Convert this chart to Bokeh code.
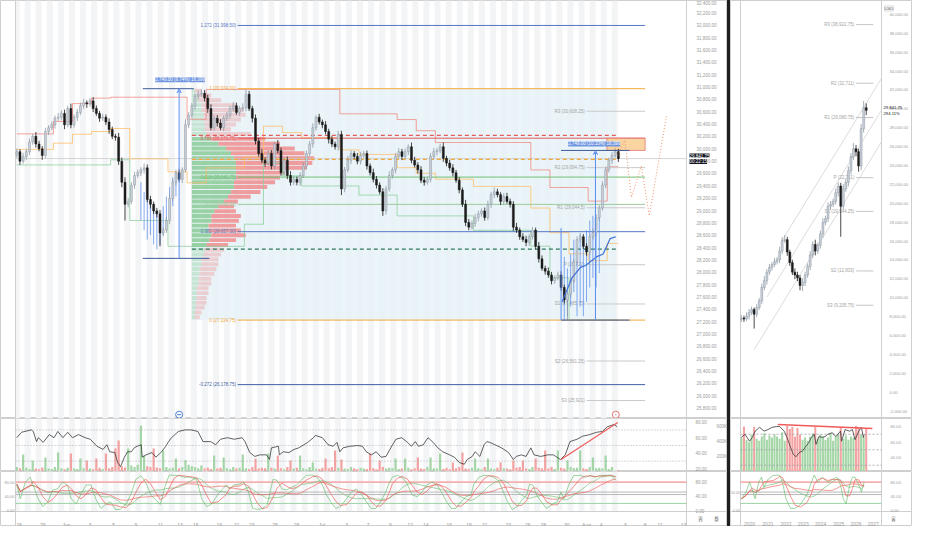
import numpy as np
import pandas as pd
from bokeh.plotting import figure
from bokeh.models import (Range1d, LinearAxis, FixedTicker, NumeralTickFormatter,
                          Label, Arrow, VeeHead, ColumnDataSource, Div)
from bokeh.layouts import row, column
from bokeh.core.properties import value
from bokeh.embed import file_html
from bokeh.resources import INLINE

# ===================== DATA =====================
first_open_l = 29900
close_l = [
    29954, 29799, 29877, 29954, 30109, 30202, 30078, 30000, 29892, 30280,
    30342, 30388, 30497, 30512, 30574, 30388, 30652, 30388, 30512, 30590,
    30698, 30745, 30729, 30776, 30652, 30574, 30497, 30512, 30434, 30311,
    30202, 30187, 29799, 29458, 29102, 29148, 29412, 29567, 29613, 29660,
    29691, 29179, 29102, 28993, 28947, 28637, 28683, 28838, 29195, 29458,
    29613, 29505, 29660, 30388, 30543, 30698, 30853, 30884, 30900, 30822,
    30652, 30342, 30497, 30419, 30342, 30497, 30543, 30652, 30698, 30590,
    30652, 30667, 30884, 30652, 30497, 30125, 29923, 29815, 29768, 29923,
    29722, 30078, 29970, 29613, 29815, 29567, 29458, 29505, 29458,
    29567, 29722, 29923, 30078, 30342, 30512, 30434, 30388, 30280, 30156,
    30078, 30032, 30233, 29350, 29660, 29815, 29923, 29877, 29799, 29892,
    29923, 29722, 29613, 29505, 29412, 29303, 28993, 29350, 29567, 29660,
    29877, 29954, 29877, 29954, 30032, 29815, 29737, 29660, 29489, 29458,
    29505, 29877, 29954, 29970, 30032, 29846, 29768, 29691, 29613, 29489,
    29334, 29102, 28807, 28730, 28792, 28885, 28947, 28993, 28885, 29102,
    29257, 29303, 29257, 29148, 29226, 29148, 29102, 28730, 28683, 28575,
    28531, 28482, 28575, 28683, 28420, 28218, 28063, 28017, 27955, 27862,
    27908, 27955, 27753, 27552, 27645, 27862, 28172, 28528, 28575, 28420,
    28326, 28575, 28637, 28885, 29040, 29412, 29660, 29815, 29892, 29954,
    29842]
wick_hi_l = [
    50, 40, 60, 45, 55, 40, 70, 50, 45, 60, 40, 55, 45, 70, 50, 60, 45, 80, 40, 55,
    50, 65, 40, 45, 60, 50, 40, 55, 45, 60, 50, 40, 70, 60, 80, 55, 45, 60, 50, 40,
    70, 55, 60, 45, 50, 60, 40, 55, 70, 45, 50, 60, 40, 90, 50, 45, 40, 60, 62, 50,
    55, 70, 45, 50, 60, 40, 55, 45, 60, 50, 40, 70, 78, 55, 45, 60, 50, 70, 45, 60,
    55, 40, 65, 50, 45, 60, 70, 50, 45, 55, 60, 45, 50, 70, 31, 55, 40, 60, 45, 50,
    40, 55, 60, 45, 70, 50, 40, 55, 60, 45, 50, 40, 65, 55, 45, 60, 50, 70, 40, 55,
    60, 45, 50, 40, 70, 55, 45, 60, 50, 40, 55, 60, 45, 50, 70, 40, 55, 60, 45, 50,
    40, 70, 55, 45, 60, 50, 40, 55, 60, 45, 70, 50, 40, 55, 60, 45, 50, 70, 40, 55,
    60, 45, 50, 40, 70, 55, 45, 60, 50, 40, 55, 60, 45, 50, 70, 40, 55, 60, 45, 50,
    40, 70, 55, 45, 60, 50, 40, 55, 60, 45]
wick_lo_l = [
    45, 60, 40, 55, 50, 45, 60, 40, 70, 45, 55, 40, 60, 45, 50, 70, 40, 55, 45, 60,
    40, 50, 65, 45, 55, 40, 60, 45, 50, 70, 45, 55, 60, 80, 264, 50, 45, 60, 40, 55,
    60, 45, 70, 50, 60, 217, 55, 45, 60, 40, 50, 45, 60, 40, 55, 45, 60, 50, 40, 55,
    70, 45, 50, 60, 40, 55, 45, 60, 50, 40, 55, 45, 60, 40, 70, 55, 50, 45, 60, 40,
    55, 60, 45, 50, 40, 60, 55, 45, 50, 60, 40, 55, 45, 60, 50, 40, 55, 45, 70, 50,
    45, 60, 100, 55, 40, 60, 45, 50, 55, 40, 60, 45, 50, 55, 40, 80, 60, 45, 50, 55,
    40, 60, 45, 55, 50, 40, 60, 45, 55, 40, 50, 45, 60, 40, 55, 50, 45, 60, 40, 55,
    45, 60, 50, 40, 55, 60, 45, 50, 40, 60, 55, 45, 60, 50, 40, 55, 60, 45, 50, 40,
    60, 55, 45, 50, 60, 40, 55, 45, 60, 50, 40, 55, 60, 327, 50, 40, 55, 45, 45, 60,
    50, 45, 60, 55, 40, 50, 45, 60, 40, 55]
vol_l = [  # thousands
    60, 45, 227, 50, 35, 147, 40, 30, 55, 187, 40, 35, 60, 253, 45, 30, 50, 240, 40, 35,
    173, 45, 147, 40, 30, 173, 50, 35, 240, 45, 60, 307, 413, 70, 55, 307, 80, 60, 90, 613,
    213, 70, 60, 307, 55, 45, 280, 60, 40, 50, 173, 45, 60, 150, 90, 70, 60, 45, 80, 40,
    55, 35, 213, 40, 50, 187, 45, 30, 60, 40, 50, 227, 45, 35, 60, 173, 40, 50, 45, 240,
    50, 40, 213, 45, 30, 60, 147, 40, 50, 213, 45, 30, 60, 120, 40, 35, 50, 173, 45, 60,
    280, 50, 160, 40, 35, 60, 45, 30, 50, 40, 35, 240, 45, 30, 147, 60, 40, 50, 45, 173,
    35, 40, 173, 50, 30, 45, 187, 40, 35, 60, 187, 45, 40, 240, 35, 50, 30, 120, 45, 60,
    253, 40, 35, 50, 173, 45, 30, 60, 173, 40, 35, 50, 120, 45, 40, 30, 147, 50, 60, 147,
    40, 35, 60, 173, 50, 45, 280, 40, 60, 35, 280, 50, 40, 147, 60, 45, 50, 280, 40, 35,
    60, 187, 45, 50, 40, 213, 35, 60, 13, 20]
rsi_t_l = [0, 1.5, 4.6, 5.2, 6.2, 6.8, 8.3, 10.2, 11.7, 12.9, 14.5, 16, 17.5, 19.4, 21.5, 23.1,
           25.2, 27.1, 28.3, 29.2, 30.8, 31.7, 32.6, 33.8, 34.8, 36, 36.9, 37.8, 39.1, 39.4,
           40.6, 42.5, 43.7, 45.5, 46.8, 47.7, 48.6, 50.8, 52.9, 54.8, 56.9, 58.5, 60.9, 62.5,
           64, 66.2, 68.3, 70.8, 71.7, 73.2, 74.8, 76.3, 78.5, 79.4, 80, 82.2, 82.5, 83.7, 85.5,
           87.1, 88.6, 91.4, 93.2, 93.8, 96, 97.8, 99.4, 100.6, 101.5, 102.5, 104.6, 107.1,
           108.6, 109.8, 111.4, 112.9, 114.5, 116, 117.5, 119.1, 120.9, 122.5, 124, 125.2,
           126.2, 127.7, 129.2, 130.8, 132.3, 133.8, 136, 137.5, 139.1, 140.6, 141.5, 143.1,
           144, 145.5, 146.8, 147.7, 148.6, 150.2, 152.3, 154.5, 156, 156.9, 158.5, 160,
           161.5, 162.5, 164.6, 166.8, 168.6, 170.8, 172.3, 173.8, 176, 177.8, 180, 182.2,
           184, 185.5, 187.7, 188.6]
rsi_v_l = [60, 67, 70, 68, 55, 60, 54, 64, 60, 68, 60, 67, 60, 64, 60, 58, 49, 45, 51, 42,
           41, 28, 23, 35, 42, 42, 47, 49, 51, 35, 38, 41, 35, 42, 49, 55, 60, 68, 70, 70,
           68, 55, 55, 51, 58, 60, 58, 60, 55, 41, 36, 38, 38, 32, 47, 49, 38, 42, 41, 45,
           47, 54, 60, 63, 60, 51, 49, 54, 42, 47, 49, 50, 49, 42, 38, 42, 35, 36, 47, 58,
           60, 55, 49, 55, 49, 51, 60, 54, 47, 42, 38, 35, 28, 26, 32, 36, 42, 36, 51, 55,
           54, 51, 47, 41, 32, 36, 38, 36, 47, 38, 36, 38, 38, 32, 38, 55, 58, 62, 64, 67,
           68, 74, 77, 74]
stk_t_l = [0, 1.1, 2.7, 4.2, 5.1, 6.7, 8.2, 9.8, 11.3, 12.8, 14.4, 15.9, 17.1, 18.7, 20.2, 21.8,
           23.3, 24.8, 26.4, 27.9, 29.4, 31, 32.5, 34.4, 35.9, 37.4, 39, 40.5, 42.1, 43.6,
           45.1, 46.7, 47.9, 49.4, 50.9, 52.5, 54.4, 56.5, 58.1, 59.6, 61.1, 63.3, 65.8, 66.7,
           68.2, 69.8, 71.3, 72.8, 74.1, 75.6, 77.2, 78.7, 80.5, 81.8, 83.3, 84.8, 86.4, 87.9,
           89.4, 90.9, 92.8, 94.4, 95.9, 97.1, 98.6, 100.2, 101.7, 103.6, 105.1, 106.7, 108.2,
           109.8, 111.3, 112.8, 114.3, 115.9, 117.1, 118, 119.6, 121.1, 122.7, 124.2, 125.8,
           127.3, 128.8, 130.4, 131.9, 133.4, 135, 136.5, 138, 139.6, 141.1, 142.7, 143.6,
           145.2, 146.7, 148.2, 149.8, 151.3, 152.9, 154.2, 155.6, 157.2, 158.7, 160.2, 161.1,
           162.1, 163.3, 164.8, 166.4, 168.2, 169.8, 171, 171.9, 173.4, 175, 177.1, 178.7,
           180.2, 181.7, 183.3, 185.1, 186.6, 188.2]
stk_v_l = [74, 33, 80, 94, 72, 33, 11, 25, 58, 61, 80, 72, 33, 19, 47, 72, 72, 33, 6, 17,
           25, 3, 3, 19, 47, 88, 98, 80, 44, 30, 17, 72, 100, 99, 99, 94, 94, 88, 33, 11,
           17, 47, 72, 61, 72, 74, 80, 52, 6, 3, 6, 17, 88, 85, 61, 58, 66, 72, 85, 99,
           100, 94, 74, 47, 25, 6, 11, 33, 52, 61, 47, 25, 6, 6, 25, 52, 80, 94, 99, 94,
           74, 44, 39, 52, 72, 80, 74, 52, 25, 6, 6, 25, 39, 44, 74, 94, 99, 99, 94, 85,
           52, 25, 3, 11, 30, 44, 74, 72, 44, 25, 6, 17, 25, 52, 33, 72, 99, 99, 94, 99,
           94, 99, 99, 100, 85]
vp_up = [3, 5, 7, 10, 10, 12, 12, 13, 13, 15, 20, 27, 35, 40, 43, 45, 45, 45, 45, 43,
         43, 40, 37, 33, 27, 23, 20, 20, 17, 17, 20, 18, 15, 13, 12, 10, 10, 8, 8, 7,
         7, 5, 5, 5, 4, 4, 3, 3]
vp_dn = [7, 15, 23, 35, 43, 43, 38, 32, 27, 45, 55, 63, 70, 75, 82, 78, 72, 50, 45, 42,
         34, 30, 23, 14, 16, 22, 30, 28, 28, 33, 35, 27, 22, 20, 18, 17, 17, 17, 15, 13,
         13, 12, 12, 10, 11, 9, 7, 5]
vah, poc, val = 30218.0, 29830.0, 28373.0
fib_ratio = ["1.272", "1", "0.786", "0.618", "0.5", "0.382", "0", "-0.272"]
fib_price = [31998.50, 30974.00, 30171.75, 29541.75, 29099.38, 28657.00, 27224.75, 26178.75]
fib_color = ["#5677c4", "#f2a93b", "#e35b5b", "#6fbf73", "#9ccc9c", "#5677c4", "#f2a93b", "#3d5fa3"]
piv_name = ["R3", "R2", "R1", "P", "S1", "S2", "S3"]
piv_l = [30608.25, 29694.75, 29044.5, 28122, 27485.75, 26561.25, 25921]
vp_start_bar, fib_bg_end_bar = 55.0, 188.2
fib_line_bars = (69.4, 197.4)
piv_line_bars_l = (179.0, 197.4)
meas1 = dict(x0=39.6, x1=55.6, x1b=60.5, xa=51.0, lo=28225.0, hi=30974.0,
             text="2,749.00 (9.74%) 16,399", lx=51.3, ly=31117)
meas2 = dict(x0=171.0, x1=192.5, xa=181.8, lo=27224.75, hi=29973.75, vline_top=28714,
             text="2,749.00 (10.10%) 16,399", lx=181.4, ly=30078)
target_box = dict(x0=185.4, x1=197.4, lo=29973.75, hi=30171.75)
proj_bar = [188.8, 191.0, 193.1, 196.2, 198.7, 204.2]
proj_price = [29892, 30140, 29210, 29722, 28916, 30558]
ma_bar = [171.3, 174.4, 177.1, 178.7, 182.1, 184.2, 186.4, 188.2]
ma_price = [27520, 27908, 28079, 28110, 28249, 28296, 28544, 28575]
pat1_bar = list(range(39, 51))
pat1_hi = [29458, 29303, 29226, 29148, 29071, 28993, 28916, 29071, 29226, 29381, 29536, 29613]
pat1_lo = [28838, 28683, 28528, 28606, 28450, 28373, 28450, 28606, 28683, 28916, 29071, 29226]
pat2_bar = list(range(172, 184))
pat2_hi = [28249, 28063, 28296, 28528, 28450, 28606, 28528, 28683, 28838, 28916, 28683, 28993]
pat2_lo = [27210, 27288, 27443, 27676, 27288, 27443, 27288, 27520, 27753, 27908, 27753, 27986]
rsi_trend_l = ([171.0, 188.8], [32.0, 79.5])
x_tick_pos_l = [0.8, 8.2, 15.6, 23.0, 30.4, 37.4, 45.1, 51.3, 56.2, 63.6, 69.1, 73.8, 81.1, 87.9,
                95.9, 103.6, 110.4, 117.4, 123.6, 128.5, 135.9, 142.1, 147.0, 154.4, 160.5,
                165.4, 172.8, 179.0, 183.6, 191.3, 197.4, 202.1, 209.5]
x_tick_lbl_l = ["26", "29", "Jun", "3", "5", "9", "11", "13", "16", "19", "21", "23", "25", "28",
                "Jul", "3", "7", "9", "12", "14", "16", "19", "21", "23", "26", "28", "30", "Aug",
                "4", "6", "8", "11", "13"]
last_price = 29841.75
countdown = "00:22:15"

first_open_r = 7700
close_r = [7844, 7743, 8047, 8452, 8756, 8250, 8959, 9667, 11086, 11795,
           12706, 13213, 13517, 13821, 14024, 14935, 16050, 16151, 14834, 13720,
           12706, 12402, 12099, 11288, 11592, 12402, 13314, 14530, 15644, 14935,
           15543, 16761, 17974, 18380, 19696, 19899, 20203, 21115, 21823, 19696,
           21520, 22229, 23445, 24957, 25775, 25470, 23951, 27902, 30130, 29842]
wick_hi_r = [300, 250, 400, 350, 300, 200, 350, 300, 400, 500, 300, 350, 250, 400, 300, 450, 350, 500, 300, 250,
             300, 400, 350, 300, 450, 350, 300, 400, 350, 500, 300, 350, 450, 300, 400, 350, 300, 450, 400, 350,
             500, 400, 450, 350, 600, 400, 300, 500, 710, 450]
wick_lo_r = [250, 300, 200, 350, 300, 1520, 300, 250, 350, 300, 400, 300, 350, 250, 300, 350, 300, 250, 400, 350,
             300, 450, 350, 500, 600, 350, 300, 400, 350, 450, 300, 350, 400, 300, 350, 400, 300, 350, 400, 3242,
             350, 300, 450, 400, 350, 500, 600, 450, 400, 500]
vol_r = [64, 85, 60, 55, 70, 84, 62, 58, 66, 72, 60, 68, 64, 70, 66, 62, 74, 58, 86, 80,
         84, 66, 82, 70, 60, 64, 58, 66, 72, 84, 62, 70, 66, 60, 64, 72, 58, 66, 70, 84,
         62, 68, 60, 66, 64, 86, 84, 70, 66, 80]
rsi_t_r = [0, 1.4, 3.2, 4.3, 5.4, 7.1, 8.9, 10.4, 12.1, 13.9, 15, 16.8, 17.9, 19.3, 20.4, 21.4,
           22.9, 23.9, 25, 26.4, 27.5, 28.6, 29.3, 30.4, 31.8, 32.9, 33.9, 35.7, 37.1, 38.9,
           39.3, 40.7, 42.5, 43.6, 44.6, 46.1, 47.1, 47.9, 48.2]
rsi_v_r = [66, 70, 61, 66, 74, 79, 74, 76, 79, 80, 80, 74, 66, 53, 44, 41, 47, 48, 53, 59,
           66, 70, 57, 67, 66, 67, 70, 72, 67, 74, 61, 76, 74, 76, 63, 74, 79, 66, 70]
stk_t_r = [0, 1.8, 3.2, 4.3, 5.4, 6.8, 7.9, 8.9, 10.4, 12.5, 15, 16.1, 17.5, 19.3, 21.1, 23.2,
           25.7, 27.5, 28.6, 30, 31.8, 33.9, 35.7, 37.5, 38.9, 40, 41.1, 42.5, 43.6, 44.6,
           46.1, 47.1, 48.2]
stk_v_r = [33, 52, 80, 58, 33, 80, 94, 66, 88, 99, 100, 80, 33, 6, 6, 17, 44, 80, 100, 80,
           94, 80, 88, 94, 72, 33, 19, 72, 94, 94, 72, 52, 80]
piv_r = [38922.75, 32711, 29080.75, 22711, 19144.25, 12833, 9205.75]
piv_line_bars_r = (45.0, 51.8)
chan_r_k0 = [16.0, 10.0, 5.0]
chan_r_p0 = [16069, 10065, 4500]
chan_r_k1 = [55.0, 55.0, 55.0]
chan_r_p1 = [33229, 29865, 26500]
rsi_trend_r = ([14.3, 51.4], [82.6, 77.4])
x_tick_pos_r = [3.2, 10.4, 17.5, 24.3, 31.1, 38.2, 45.0, 51.8]
x_tick_lbl_r = ["2020", "2021", "2022", "2023", "2024", "2025", "2026", "2027"]
pct_change = "294.11%"

# ===================== STYLE / LAYOUT =====================
FONT = "Liberation Sans"
FS = "4.5px"
FSR = "4.2px"
AXC = "#9b9b9b"
BORDER = "#cfcfcf"
UPF, UPL, DN = "#c9d0d8", "#8f99a5", "#1b1b1b"
GRN, RED = "#66bb6a", "#ef5350"

LW, RW, DW = 727, 182, 3
HM, H2, H3, HX = 418, 53, 40, 15
LBL, LBR = 15, 41
RBL, RBR = 10, 31
LA0, LA1 = -0.4, 210.4
LPX = (LA1 - LA0) / (LW - LBL - LBR)
XL0, XL1 = LA0 - LBL * LPX, LA1 + LBR * LPX
RA0, RA1 = -0.36, 55.0
RPX = (RA1 - RA0) / (RW - RBL - RBR)
XR0, XR1 = RA0 - RBL * RPX, RA1 + RBR * RPX
S0, S1 = -2.8, 110.0
SPX = (S1 - S0) / H3
SB = S0 - HX * SPX


def fmt_strip(v):
    return f"{v:,.2f}".rstrip("0").rstrip(".")


def style_y(ax, ticks, loc, overrides=None, fmt="0,0.00", standoff=4, fs=FS):
    ax.fixed_location = loc
    ax.ticker = FixedTicker(ticks=ticks)
    ax.formatter = NumeralTickFormatter(format=fmt)
    if overrides:
        ax.major_label_overrides = overrides
    ax.major_tick_line_color = None
    ax.minor_tick_line_color = None
    ax.axis_line_color = None
    ax.major_label_text_font_size = fs
    ax.major_label_text_color = AXC
    ax.major_label_text_font = FONT
    ax.major_label_standoff = standoff


def style_x(ax, pos, lbl, loc):
    ax.visible = True
    ax.fixed_location = loc
    ax.ticker = FixedTicker(ticks=pos)
    ax.major_label_overrides = {p: t for p, t in zip(pos, lbl)}
    ax.major_tick_line_color = None
    ax.minor_tick_line_color = None
    ax.axis_line_color = None
    ax.major_label_text_font_size = "5px"
    ax.major_label_text_color = AXC
    ax.major_label_text_font = FONT
    ax.major_label_standoff = 4


def base_fig(w, h, xr, yr):
    p = figure(width=w, height=h, x_range=xr, y_range=yr, output_backend="svg",
               toolbar_location=None, y_axis_location="right",
               min_border_left=0, min_border_right=0, min_border_top=0, min_border_bottom=0)
    p.grid.visible = False
    p.xaxis.visible = False
    p.outline_line_color = BORDER
    p.background_fill_color = "white"
    p.border_fill_color = "white"
    return p


def vborders(p, a0, a1, y0, y1):
    p.segment(x0=[a0, a1], x1=[a0, a1], y0=[y0, y0], y1=[y1, y1], line_color=BORDER, line_width=1)


def hline(p, a0, a1, y, color, width=1.0, dash="solid", alpha=1.0):
    p.segment(x0=[a0], x1=[a1], y0=[y], y1=[y], line_color=color, line_width=width,
              line_dash=dash, line_alpha=alpha)


def stripes(p, y0, y1):
    s = np.arange(-1.0, 189.6, 3.48)
    p.quad(left=np.maximum(s, LA0), right=np.minimum(s + 1.9, 189.6), bottom=y0, top=y1,
           fill_color="#f3f4f6", line_color=None)


def add_candles(p, x, o, c, h, l, width):
    up = c >= o
    src = ColumnDataSource(dict(
        x=list(x), h=list(h), l=list(l), top=list(np.maximum(o, c)), bot=list(np.minimum(o, c)),
        wick=[UPL if u else DN for u in up], fill=[UPF if u else DN for u in up],
        line=[UPL if u else DN for u in up]))
    p.segment(x0="x", y0="h", x1="x", y1="l", line_color="wick", line_width=0.8, source=src)
    p.vbar(x="x", width=width, top="top", bottom="bot", fill_color="fill",
           line_color="line", line_width=0.5, source=src)


def lbl(p, x, y, text, color=AXC, align="left", bg=None, border=None, fs=FS, yoff=0,
        baseline="middle"):
    kw = dict(x=x, y=y, x_units="data", y_units="data", text=text, text_font=FONT, text_font_size=fs,
              text_color=color, text_align=align, text_baseline=baseline, y_offset=yoff)
    if bg:
        kw.update(background_fill_color=bg, background_fill_alpha=1.0)
    if border:
        kw.update(border_line_color=border, border_line_width=0.8)
    p.add_layout(Label(**kw))


def stoch_lines(p, t, v, a0, a1):
    s = pd.Series(v, dtype=float)
    hline(p, a0, a1, 80, "#f6b0b0", 1.6)
    hline(p, a0, a1, 52, "#b0b0b0", 0.9)
    hline(p, a0, a1, 45, "#b0b0b0", 0.9)
    hline(p, a0, a1, 20, "#9bd3a4", 1.0)
    p.line(t, s.rolling(7, min_periods=1).mean(), line_color=GRN, line_width=0.8, line_alpha=0.75)
    p.line(t, s.rolling(11, min_periods=1).mean(), line_color=RED, line_width=0.8, line_alpha=0.75)
    p.line(t, s, line_color=GRN, line_width=0.8, line_alpha=0.8)
    p.line(t, s.rolling(3, min_periods=1).mean(), line_color=RED, line_width=0.8, line_alpha=0.8)


# ===================== LEFT PANEL =====================
n = len(close_l)
bars = np.arange(n)
c = np.array(close_l, float)
o = np.r_[first_open_l, c[:-1]]
h = np.maximum(o, c) + np.array(wick_hi_l)
l = np.minimum(o, c) - np.array(wick_lo_l)
up = c >= o

xr_l = Range1d(XL0, XL1)
YL0, YL1 = 25630, 32403
p1 = base_fig(LW, HM, xr_l, Range1d(YL0, YL1))
style_y(p1.yaxis[0], list(range(25800, 32401, 200)), LA1)
stripes(p1, YL0, YL1)
vborders(p1, LA0, LA1, YL0, YL1)

p1.quad(left=vp_start_bar, right=fib_bg_end_bar, bottom=fib_price[6], top=fib_price[1],
        fill_color="#e4f2f7", fill_alpha=0.75, line_color=None)

nrow = len(vp_up)
row_h = (fib_price[1] - fib_price[6]) / nrow
tops = fib_price[1] - np.arange(nrow) * row_h
bots = tops - row_h * 0.82
mids = (tops + bots) / 2
alpha = np.where((mids <= vah) & (mids >= val), 0.75, 0.32)
px_per_bar = 3.25
g_right = vp_start_bar + np.array(vp_up) / px_per_bar
r_right = g_right + np.array(vp_dn) / px_per_bar
p1.quad(left=vp_start_bar, right=g_right, bottom=bots, top=tops, fill_color="#7cc68a",
        fill_alpha=alpha, line_color=None)
p1.quad(left=g_right, right=r_right, bottom=bots, top=tops, fill_color="#f07f7f",
        fill_alpha=alpha, line_color=None)

hline(p1, LA0, LA1, last_price, "#cdcdcd", 0.8)

blk, nb = 6, 4
ch_up = np.empty(n)
ch_dn = np.empty(n)
for i in range(n):
    b = i // blk
    s0 = max(0, (b - nb) * blk)
    e0 = b * blk if b > 0 else blk
    ch_up[i] = h[s0:e0].max()
    ch_dn[i] = l[s0:e0].min()
ch_mid = (ch_up + ch_dn) / 2
p1.step(bars, ch_up, mode="center", line_color="#f28b82", line_width=0.9, line_alpha=0.9)
p1.step(bars, ch_dn, mode="center", line_color="#8fd19e", line_width=0.9, line_alpha=0.9)
p1.step(bars, ch_mid, mode="center", line_color="#ffbf69", line_width=0.9, line_alpha=0.9)

p1.segment(x0=[fib_line_bars[0]] * 8, x1=[fib_line_bars[1]] * 8, y0=fib_price, y1=fib_price,
           line_color=fib_color, line_width=1.0)
p1.text(x=[fib_line_bars[0] - 0.5] * 8, y=fib_price,
        text=[f"{r} ({v:,.2f})" for r, v in zip(fib_ratio, fib_price)],
        text_align="right", text_baseline="middle", text_font_size=FS,
        text_color=fib_color, text_font=value(FONT))

p1.segment(x0=[vp_start_bar] * 3, x1=[fib_bg_end_bar] * 3, y0=[vah, poc, val], y1=[vah, poc, val],
           line_color=["#e35b5b", "#f2a93b", "#2f7a5f"], line_width=1.3, line_dash="4 3")

p1.segment(x0=[piv_line_bars_l[0]] * 7, x1=[piv_line_bars_l[1]] * 7, y0=piv_l, y1=piv_l,
           line_color="#cacaca", line_width=1.0)
p1.text(x=[piv_line_bars_l[0] - 0.6] * 7, y=piv_l,
        text=[f"{nm} ({fmt_strip(v)})" for nm, v in zip(piv_name, piv_l)],
        text_align="right", text_baseline="middle", text_font_size=FS,
        text_color="#a3a3a3", text_font=value(FONT))

p1.quad(left=target_box["x0"], right=target_box["x1"], bottom=target_box["lo"], top=target_box["hi"],
        fill_color="#f9c98a", fill_alpha=0.8, line_color="#e57373", line_width=0.8)

p1.segment(x0=pat1_bar, x1=pat1_bar, y0=pat1_lo, y1=pat1_hi, line_color="#5b8def", line_width=1.0, line_alpha=0.75)
p1.segment(x0=pat2_bar, x1=pat2_bar, y0=pat2_lo, y1=pat2_hi, line_color="#5b8def", line_width=1.0, line_alpha=0.75)

add_candles(p1, bars, o, c, h, l, 0.62)

p1.line(ma_bar, ma_price, line_color="#3c6fd8", line_width=1.2)
p1.line(proj_bar, proj_price, line_color="#f0956a", line_width=1.0, line_dash="1 2")

MC = "#3d5a99"
p1.segment(x0=[meas1["x0"], meas1["x0"]], x1=[meas1["x1"], meas1["x1b"]],
           y0=[meas1["hi"], meas1["lo"]], y1=[meas1["hi"], meas1["lo"]], line_color=MC, line_width=1)
p1.add_layout(Arrow(end=VeeHead(size=4, line_color="#5b8def", line_width=1, fill_color=None),
                    x_start=meas1["xa"], y_start=meas1["lo"], x_end=meas1["xa"], y_end=meas1["hi"],
                    line_color="#5b8def", line_width=1))
p1.segment(x0=[meas2["x0"], meas2["x0"]], x1=[meas2["x1"], meas2["x1"]],
           y0=[meas2["hi"], meas2["lo"]], y1=[meas2["hi"], meas2["lo"]], line_color=MC, line_width=1)
p1.segment(x0=[meas2["x0"]], x1=[meas2["x0"]], y0=[meas2["lo"]], y1=[meas2["vline_top"]],
           line_color="#5b8def", line_width=1)
p1.add_layout(Arrow(end=VeeHead(size=4, line_color="#5b8def", line_width=1, fill_color=None),
                    x_start=meas2["xa"], y_start=meas2["lo"], x_end=meas2["xa"], y_end=meas2["hi"],
                    line_color="#5b8def", line_width=1))
for m in (meas1, meas2):
    lbl(p1, m["lx"], m["ly"], m["text"], color="white", align="center", bg="#6f95e0")

p1.scatter([51.0], [25692], marker="circle", size=7, fill_color="white", line_color="#4a7fd4", line_width=1)
p1.scatter([51.0], [25692], marker="dash", size=4, line_color="#4a7fd4", line_width=1)
p1.scatter([188.2], [25692], marker="circle", size=7, fill_color="white", line_color="#e57373", line_width=1)
p1.scatter([188.2], [25692], marker="dot", size=5, line_color="#e57373", line_width=1)

lbl(p1, LA1 + 3 * LPX, last_price, f"{last_price:,.2f}", color="white", bg="#131722", yoff=3)
lbl(p1, LA1 + 3 * LPX, last_price, countdown, color="white", bg="#131722", yoff=-3)

# ---- left pane 2: volume + RSI ----
R2L = (16.7, 84.6)
p2 = base_fig(LW, H2, xr_l, Range1d(*R2L))
p2.extra_y_ranges = {"vol": Range1d(0, 707)}
style_y(p2.yaxis[0], [20, 40, 60, 80], LA1, standoff=3)
vax = LinearAxis(y_range_name="vol")
style_y(vax, [200, 400, 600], LA1 + 21 * LPX, overrides={200: "200K", 400: "400K", 600: "600K"},
        fmt="0", standoff=3)
p2.add_layout(vax, "right")
stripes(p2, *R2L)
vborders(p2, LA0, LA1, *R2L)
p2.vbar(x=bars, width=0.7, top=vol_l, bottom=0, y_range_name="vol",
        fill_color=["#a5d6a7" if u else "#f4a3a3" for u in up], line_color=None)
for lv in (70, 50, 30):
    hline(p2, LA0, LA1, lv, "#a0a0a0", 0.8, "1 2")
p2.line(rsi_t_l, rsi_v_l, line_color="#3a3a3a", line_width=0.8)
p2.line(rsi_trend_l[0], rsi_trend_l[1], line_color="#f05a5a", line_width=1.2)

# ---- left pane 3: stochastics + time axis ----
p3 = base_fig(LW, H3 + HX, xr_l, Range1d(SB, S1))
style_y(p3.yaxis[0], [0, 40, 80], LA1, standoff=3)
style_x(p3.xaxis[0], x_tick_pos_l, x_tick_lbl_l, S0)
stripes(p3, S0, S1)
vborders(p3, LA0, LA1, SB, S1)
hline(p3, XL0, XL1, S0, BORDER, 1.0)
stoch_lines(p3, stk_t_l, stk_v_l, LA0, LA1)
for v_, t_ in ((80, "80.00"), (40, "40.00"), (0, "0.00")):
    lbl(p3, LA0 - 1.0 * LPX, v_, t_, align="right", fs="4px")
lbl(p3, XL0 + 700 * LPX, SB + 7.5 * SPX, "A", color="#666666", border="#c8c8c8", bg="white", align="center")
lbl(p3, XL0 + 716 * LPX, SB + 7.5 * SPX, "B", color="#666666", border="#c8c8c8", bg="white", align="center")

# ===================== RIGHT PANEL =====================
nr = len(close_r)
kk = np.arange(nr)
cr = np.array(close_r, float)
orr = np.r_[first_open_r, cr[:-1]]
hr = np.maximum(orr, cr) + np.array(wick_hi_r)
lr = np.minimum(orr, cr) - np.array(wick_lo_r)
upr = cr >= orr

xr_r = Range1d(XR0, XR1)
YR0, YR1 = -2792, 41476
q1 = base_fig(RW, HM, xr_r, Range1d(YR0, YR1))
style_y(q1.yaxis[0], list(range(-2000, 40001, 2000)), RA1, standoff=2, fs=FSR)
vborders(q1, RA0, RA1, YR0, YR1)
q1.segment(x0=chan_r_k0, y0=chan_r_p0, x1=chan_r_k1, y1=chan_r_p1, line_color="#d2d2d2", line_width=0.8)
q1.segment(x0=[piv_line_bars_r[0]] * 7, x1=[piv_line_bars_r[1]] * 7, y0=piv_r, y1=piv_r,
           line_color="#c4c4c4", line_width=1.0)
q1.text(x=[piv_line_bars_r[0] - 0.7] * 7, y=piv_r,
        text=[f"{nm} ({fmt_strip(v)})" for nm, v in zip(piv_name, piv_r)],
        text_align="right", text_baseline="middle", text_font_size=FS,
        text_color="#a3a3a3", text_font=value(FONT))
add_candles(q1, kk, orr, cr, hr, lr, 0.75)
lbl(q1, RA1 + 2 * RPX, last_price, f"{last_price:,.2f}", color="#131722", yoff=3, fs=FSR)
lbl(q1, RA1 + 2 * RPX, last_price, pct_change, color="#131722", yoff=-3, fs=FSR)
lbl(q1, RA1 + 3 * RPX, YR1 - 8 * (YR1 - YR0) / HM, "USD", color="#555555", border="#cfcfcf",
    bg="white", fs=FSR)

R2R = (22.0, 90.3)
q2 = base_fig(RW, H2, xr_r, Range1d(*R2R))
q2.extra_y_ranges = {"vol": Range1d(0, 100)}
style_y(q2.yaxis[0], [40, 60, 80], RA1, standoff=3, fs=FSR)
vborders(q2, RA0, RA1, *R2R)
q2.vbar(x=kk, width=0.8, top=vol_r, bottom=0, y_range_name="vol",
        fill_color=["#a5d6a7" if u else "#f4a3a3" for u in upr], line_color=None)
for lv in (70, 50, 30):
    hline(q2, RA0, RA1, lv, "#a0a0a0", 0.8, "2 2")
q2.line(rsi_t_r, rsi_v_r, line_color="#3a3a3a", line_width=0.8)
q2.line(rsi_trend_r[0], rsi_trend_r[1], line_color="#f05a5a", line_width=1.4)

q3 = base_fig(RW, H3 + HX, xr_r, Range1d(SB, S1))
style_y(q3.yaxis[0], [0, 40, 80], RA1, standoff=3, fs=FSR)
style_x(q3.xaxis[0], x_tick_pos_r, x_tick_lbl_r, S0)
vborders(q3, RA0, RA1, SB, S1)
hline(q3, XR0, XR1, S0, BORDER, 1.0)
stoch_lines(q3, stk_t_r, stk_v_r, RA0, RA1)
lbl(q3, RA0 - 0.5 * RPX, 50, "50.00", align="right", fs="3.6px")
lbl(q3, RA0 - 0.5 * RPX, 0, "0.00", align="right", fs="3.6px")
lbl(q3, RA1 + 12 * RPX, SB + 7.5 * SPX, "A", color="#666666", border="#c8c8c8", bg="white",
    align="center", fs=FSR)

left = column(p1, p2, p3, spacing=0)
right = column(q1, q2, q3, spacing=0)
divider = Div(text="", width=DW, height=HM + H2 + H3 + HX,
              styles={"background-color": "#1f1f1f"}, margin=(0, 0, 0, 0))
layout = row(left, divider, right, spacing=0)

open("out.html", "w").write(file_html(layout, INLINE))
